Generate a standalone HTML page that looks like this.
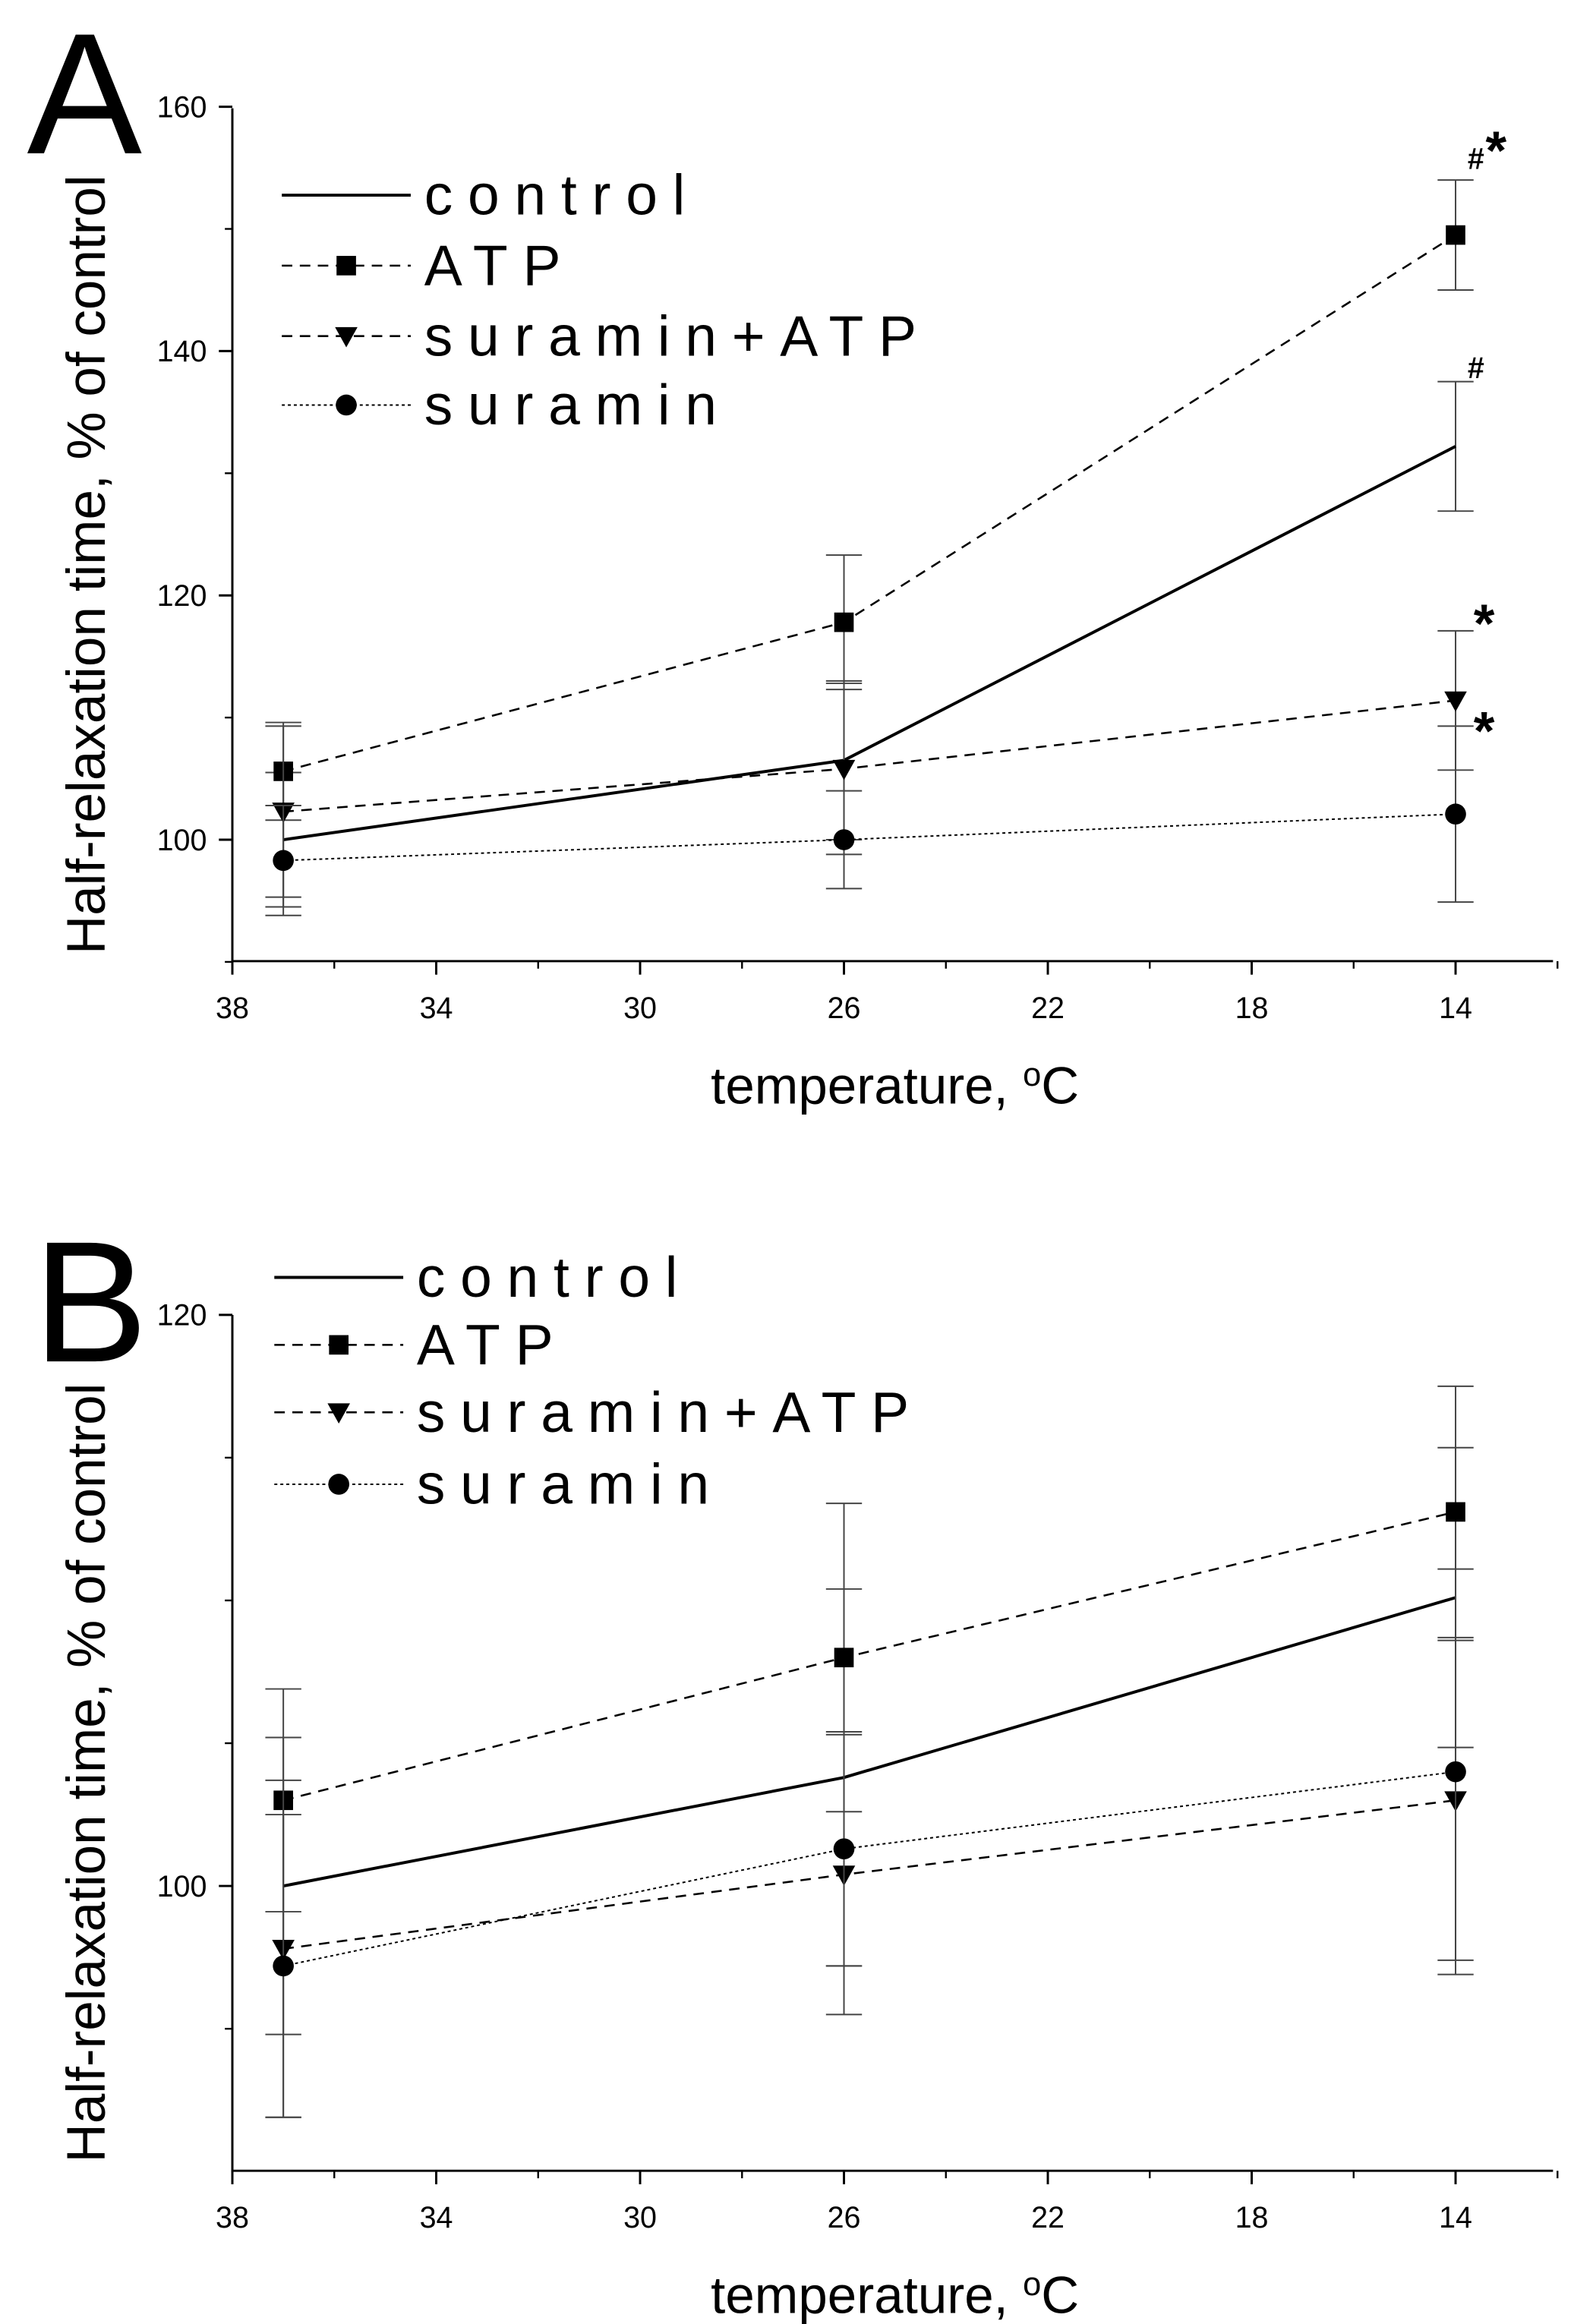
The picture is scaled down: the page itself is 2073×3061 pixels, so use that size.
<!DOCTYPE html>
<html><head><meta charset="utf-8"><style>
html,body{margin:0;padding:0;background:#fff;}
svg{display:block;font-family:"Liberation Sans",sans-serif;}
</style></head><body>
<svg id="chart" width="2073" height="3061" viewBox="0 0 1050 1550" xmlns="http://www.w3.org/2000/svg"></svg>
<script>
const temps = [37, 26, 14];
const seriesNames = ["control", "ATP", "suramin+ATP", "suramin"];
const A_control = [100, 106.5, 132.2];
const A_controlErr = [5.5, 6.5, 5.3];
const A_atp = [105.6, 117.8, 149.5];
const A_atpErr = [4, 5.5, 4.5];
const A_suraATP = [102.3, 105.8, 111.4];
const A_suraATPErr = [7, 7, 5.7];
const A_sura = [98.3, 100, 102.1];
const A_suraErr = [4.5, 4, 7.2];
const B_control = [100, 103.8, 110.1];
const B_controlErr = [5.2, 6.6, 5.25];
const B_atp = [103, 108, 113.1];
const B_atpErr = [3.9, 5.4, 4.4];
const B_suraATP = [97.8, 100.4, 103];
const B_suraATPErr = [5.9, 4.9, 5.6];
const B_sura = [97.2, 101.3, 104];
const B_suraErr = [5.3, 4.1, 7.1];
const xTicks = [38, 34, 30, 26, 22, 18, 14];
const A_yTicks = [100, 120, 140, 160];
const B_yTicks = [100, 120];
// [text, temperature, value, size, dx]
const A_annotations = [["#", 14, 154.9, 20, 8], ["*", 14, 154.9, 36, 20], ["#", 14, 137.8, 20, 8], ["*", 14, 116.2, 36, 12], ["*", 14, 107.4, 36, 12]];

const NS = "http://www.w3.org/2000/svg";
const svg = document.getElementById("chart");
function el(tag, attrs, parent, text) {
  const e = document.createElementNS(NS, tag);
  for (const k in attrs) e.setAttribute(k, attrs[k]);
  if (text !== undefined) e.textContent = text;
  (parent || svg).appendChild(e);
  return e;
}
const xS = v => 155 + (38 - v) * 34;

function marker(g, type, x, y) {
  let m;
  if (type === "square") m = el("rect", {x: x - 6.5, y: y - 6.5, width: 13, height: 13, fill: "#000"}, g);
  else if (type === "tri") m = el("polygon", {points: `${x-7.5},${y-6} ${x+7.5},${y-6} ${x},${y+7.5}`, fill: "#000"}, g);
  else if (type === "circle") m = el("circle", {cx: x, cy: y, r: 7, fill: "#000"}, g);
  if (m) {
    
    
  }
}

function panel(cfg) {
  const g = el("g", {});
  
  
  const yS = v => cfg.y0px - (v - cfg.y0) * cfg.pxPer;
  const bottom = cfg.bottom, top = cfg.top;
  const ax = el("path", {d: `M155,${top} L155,${bottom} L1036,${bottom}`, fill: "none", stroke: "#000", "stroke-width": 1.5}, g);
  
  
  xTicks.forEach(t => {
    el("line", {x1: xS(t), x2: xS(t), y1: bottom, y2: bottom + 9, stroke: "#000", "stroke-width": 1.5}, g);
    const lb = el("text", {x: xS(t), y: bottom + 38, "font-size": 20, "text-anchor": "middle"}, g, t);
    
    
  });
  for (let t = 36; t >= 12; t -= 4) el("line", {x1: xS(t), x2: xS(t), y1: bottom, y2: bottom + 5, stroke: "#000", "stroke-width": 1.2}, g);
  cfg.yTicks.forEach(t => {
    el("line", {x1: 146, x2: 155, y1: yS(t), y2: yS(t), stroke: "#000", "stroke-width": 1.5}, g);
    const lb = el("text", {x: 138, y: yS(t) + 7, "font-size": 20, "text-anchor": "end"}, g, t);
    
    
  });
  for (let t = cfg.yMinor0; yS(t) >= top - 1; t += cfg.yMinorStep) {
    if (cfg.yTicks.includes(t)) continue;
    el("line", {x1: 150, x2: 155, y1: yS(t), y2: yS(t), stroke: "#000", "stroke-width": 1.2}, g);
  }
  const styles = [
    {dash: "", w: 2, m: null},
    {dash: "7,5", w: 1.3, m: "square"},
    {dash: "7,5", w: 1.3, m: "tri"},
    {dash: "2,2", w: 1, m: "circle"}
  ];
  cfg.series.forEach((s, i) => {
    const sg = el("g", {}, g);
    
    
    const st = styles[i];
    temps.forEach((t, j) => {
      const x = xS(t), e = s.err[j];
      el("line", {x1: x, x2: x, y1: yS(s.v[j] - e), y2: yS(s.v[j] + e), stroke: "#444", "stroke-width": 1}, sg);
      el("line", {x1: x - 12, x2: x + 12, y1: yS(s.v[j] - e), y2: yS(s.v[j] - e), stroke: "#444", "stroke-width": 1}, sg);
      el("line", {x1: x - 12, x2: x + 12, y1: yS(s.v[j] + e), y2: yS(s.v[j] + e), stroke: "#444", "stroke-width": 1}, sg);
    });
    const pts = temps.map((t, j) => `${xS(t)},${yS(s.v[j])}`).join(" ");
    const pl = el("polyline", {points: pts, fill: "none", stroke: "#000", "stroke-width": st.w, "stroke-dasharray": st.dash}, sg);
    
    
    if (st.m) temps.forEach((t, j) => marker(sg, st.m, xS(t), yS(s.v[j])));
  });
  const lg = el("g", {}, g);
  
  
  seriesNames.forEach((n, i) => {
    const y = cfg.legY[i], st = styles[i];
    const le = el("g", {}, lg);
    
    
    el("line", {x1: cfg.legX, x2: cfg.legX + 86, y1: y, y2: y, stroke: "#000", "stroke-width": st.w, "stroke-dasharray": st.dash}, le);
    if (st.m) marker(le, st.m, cfg.legX + 43, y);
    el("text", {x: cfg.legX + 95, y: y + 13, "font-size": 38, "letter-spacing": 10}, le, n);
  });
  const L = el("text", {x: cfg.letterX, y: cfg.letterY, "font-size": 115}, g, cfg.letter);
  
  
  const yt = el("text", {x: 0, y: 0, "font-size": 36, "text-anchor": "middle", transform: `translate(70,${(top + bottom) / 2 + 20}) rotate(-90)`}, g, "Half-relaxation time, % of control");
  
  
  const xt = el("text", {x: 597, y: bottom + 95, "font-size": 35, "text-anchor": "middle"}, g);
  
  
  xt.innerHTML = 'temperature, <tspan dy="-12" font-size="22">o</tspan><tspan dy="12">C</tspan>';
  (cfg.ann || []).forEach(a => {
    const t = el("text", {x: xS(a[1]) + a[4], y: yS(a[2]), "font-size": a[3], "font-weight": "bold"}, g, a[0]);
    
    
  });
}

panel({name: "panel-a", y0: 100, y0px: 560, pxPer: 8.15, top: 72, bottom: 641, yTicks: A_yTicks, yMinor0: 90, yMinorStep: 10,
  series: [{v: A_control, err: A_controlErr}, {v: A_atp, err: A_atpErr}, {v: A_suraATP, err: A_suraATPErr}, {v: A_sura, err: A_suraErr}],
  legX: 188, legY: [130, 177, 224, 270], letter: "A", letterX: 18, letterY: 102, ann: A_annotations});
panel({name: "panel-b", y0: 100, y0px: 1258, pxPer: 19.05, top: 877, bottom: 1448, yTicks: B_yTicks, yMinor0: 95, yMinorStep: 5,
  series: [{v: B_control, err: B_controlErr}, {v: B_atp, err: B_atpErr}, {v: B_suraATP, err: B_suraATPErr}, {v: B_sura, err: B_suraErr}],
  legX: 183, legY: [852, 897, 942, 990], letter: "B", letterX: 22, letterY: 908});
</script>
</body></html>
